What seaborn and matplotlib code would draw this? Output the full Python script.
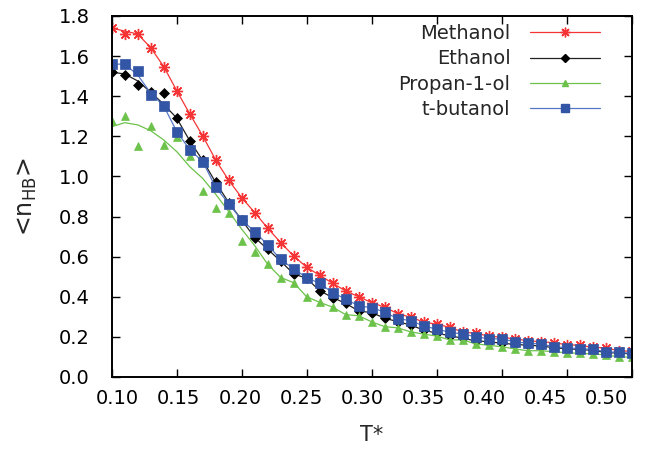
import numpy as np
import pandas as pd
import matplotlib
matplotlib.use("Agg")
import matplotlib.pyplot as plt
from matplotlib.lines import Line2D
from matplotlib.transforms import ScaledTranslation
import seaborn as sns

# reduced temperature, 0.10 ... 0.50 in steps of 0.01
T = [0.10, 0.11, 0.12, 0.13, 0.14, 0.15, 0.16, 0.17, 0.18, 0.19,
     0.20, 0.21, 0.22, 0.23, 0.24, 0.25, 0.26, 0.27, 0.28, 0.29,
     0.30, 0.31, 0.32, 0.33, 0.34, 0.35, 0.36, 0.37, 0.38, 0.39,
     0.40, 0.41, 0.42, 0.43, 0.44, 0.45, 0.46, 0.47, 0.48, 0.49, 0.50]

methanol = [1.739, 1.709, 1.711, 1.642, 1.548, 1.428, 1.312, 1.202, 1.082, 0.981,
            0.894, 0.820, 0.742, 0.670, 0.603, 0.547, 0.507, 0.467, 0.429, 0.400,
            0.371, 0.348, 0.316, 0.298, 0.274, 0.263, 0.248, 0.224, 0.218, 0.204,
            0.198, 0.190, 0.181, 0.176, 0.171, 0.161, 0.158, 0.148, 0.145, 0.131, 0.128]
ethanol = [1.520, 1.506, 1.458, 1.423, 1.418, 1.291, 1.178, 1.080, 0.970, 0.870,
           0.783, 0.695, 0.637, 0.577, 0.514, 0.492, 0.430, 0.396, 0.367, 0.329,
           0.321, 0.293, 0.276, 0.259, 0.234, 0.218, 0.206, 0.193, 0.180, 0.176,
           0.168, 0.163, 0.158, 0.155, 0.146, 0.141, 0.137, 0.133, 0.122, 0.119, 0.115]
propanol = [1.278, 1.303, 1.152, 1.253, 1.159, 1.196, 1.104, 0.929, 0.845, 0.820,
            0.677, 0.625, 0.562, 0.496, 0.470, 0.400, 0.372, 0.348, 0.311, 0.305,
            0.275, 0.251, 0.245, 0.225, 0.214, 0.204, 0.185, 0.185, 0.165, 0.158,
            0.151, 0.140, 0.131, 0.131, 0.126, 0.121, 0.118, 0.115, 0.110, 0.101, 0.098]
tbutanol = [1.560, 1.560, 1.528, 1.405, 1.352, 1.224, 1.134, 1.074, 0.946, 0.864,
            0.783, 0.725, 0.658, 0.586, 0.539, 0.495, 0.467, 0.420, 0.389, 0.354,
            0.346, 0.323, 0.291, 0.281, 0.254, 0.239, 0.223, 0.214, 0.201, 0.190,
            0.190, 0.176, 0.168, 0.165, 0.151, 0.146, 0.141, 0.138, 0.126, 0.123, 0.118]

# smoothed start of each curve; the rest follows the points
methanol_fit = [1.739, 1.725, 1.710]
ethanol_fit = [1.520, 1.511, 1.476, 1.420, 1.360]
propanol_fit = [1.248, 1.268, 1.257, 1.228, 1.182, 1.124, 1.049, 0.990, 0.911,
                0.825, 0.737, 0.655]
tbutanol_fit = [1.560, 1.560, 1.506, 1.415]

xticks = [0.10, 0.15, 0.20, 0.25, 0.30, 0.35, 0.40, 0.45, 0.50]
yticks = [0.0, 0.2, 0.4, 0.6, 0.8, 1.0, 1.2, 1.4, 1.6, 1.8]

labels = ["Methanol", "Ethanol", "Propan-1-ol", "t-butanol"]
colors = ["#f53535", "#000000", "#6cc24a", "#3355a5"]
line_colors = ["#f53535", "#222222", "#6cc24a", "#5577c4"]
markers = [(8, 2, 0), "D", "^", "s"]
msizes = [8, 5, 6, 7]

sns.set_style("ticks")
plt.rcParams['font.family'] = ['DejaVu Sans']
plt.rcParams['mathtext.default'] = 'regular'

fig = plt.figure(figsize=(6.51, 4.53), dpi=100)
ax = fig.add_axes([0.1716, 0.1678, 0.7987, 0.7969])

series = [(methanol, methanol_fit), (ethanol, ethanol_fit),
          (propanol, propanol_fit), (tbutanol, tbutanol_fit)]
handles = []
for (vals, fit), lab, c, lc, m, ms in zip(series, labels, colors, line_colors, markers, msizes):
    line = fit + vals[len(fit):]
    sns.lineplot(x=T, y=line, ax=ax, color=lc, linewidth=0.9, sort=False)
    df = pd.DataFrame({'T': T, 'n': vals})
    ax.plot(df['T'], df['n'], linestyle='none', marker=m, markersize=ms,
            color=c, markeredgecolor=c, markeredgewidth=1.0 if m == (8, 2, 0) else 0.5)
    handles.append(Line2D([0], [0], color=lc, linewidth=0.9, marker=m,
                          markersize=ms - 1, markeredgecolor=c, markerfacecolor=c))

ax.set_xlim(0.10, 0.50)
ax.set_ylim(0.0, 1.8)
ax.set_xticks(xticks)
ax.set_yticks(yticks)
ax.set_xticklabels([f"{v:.2f}" for v in xticks])
ax.set_yticklabels([f"{v:.1f}" for v in yticks])
ax.tick_params(direction='in', length=6, width=1.0, top=True, right=True,
               labelsize=14, colors='black')
ax.tick_params(axis='x', pad=9)
ax.tick_params(axis='y', pad=16)
for sp in ax.spines.values():
    sp.set_visible(True)
    sp.set_linewidth(1.4)
    sp.set_color('black')

# x tick labels sit a little squeezed towards the middle, as in the original
for i, tl in enumerate(ax.get_xticklabels()):
    dx = (6.0 - 3.9 * i) / 100.0
    tl.set_transform(tl.get_transform() + ScaledTranslation(dx, 0, fig.dpi_scale_trans))

ax.set_xlabel("T*", fontsize=15, labelpad=12)
ax.set_ylabel("<n$_{HB}$>", fontsize=17, labelpad=14)

ax.legend(handles, labels, loc='upper right', bbox_to_anchor=(0.939, 0.978),
          frameon=False, markerfirst=False, fontsize=14, handlelength=3.6,
          labelspacing=0.33, borderpad=0, borderaxespad=0, handletextpad=1.0)

fig.savefig("out.png", dpi=100)
plt.close(fig)
